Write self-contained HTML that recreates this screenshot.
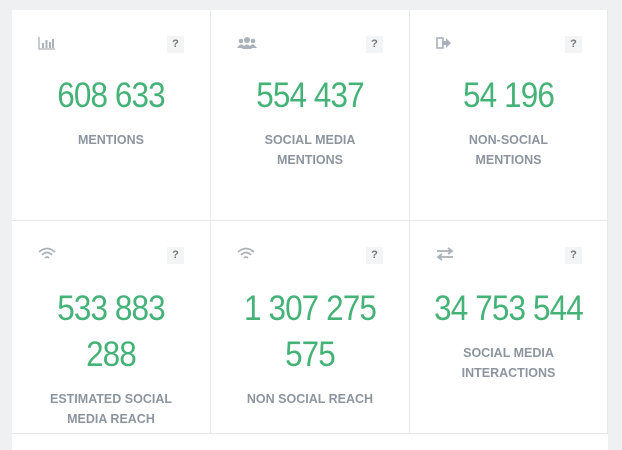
<!DOCTYPE html>
<html><head><meta charset="utf-8"><style>
html,body{margin:0;padding:0;width:622px;height:441px;overflow:hidden;background:#eff0f1;font-family:"Liberation Sans",sans-serif}
.grid{position:absolute;left:12px;top:10px;width:596px;height:440px;background:#fff}
.cell{position:absolute;border-right:1px solid #e6e8ea;border-bottom:1px solid #e6e8ea;box-sizing:border-box;text-align:center}
.icon{position:absolute;left:26px;top:26px;width:18px;height:14px;color:#aab1b9;font-size:14px;line-height:14px;text-align:left}
.q{position:absolute;top:26px;width:17px;height:17px;background:#f3f4f5;color:#777;font-size:11px;font-weight:bold;line-height:17px;text-align:center}
.num{position:absolute;left:0;right:0;color:#45b277;font-size:35px;line-height:46px;letter-spacing:-1px;transform:scaleX(0.9)}
.lab{position:absolute;left:0;right:0;color:#8c959f;font-size:12.5px;font-weight:bold;line-height:20px}
</style></head><body>
<div class="grid">
 <div class="cell" style="left:0;top:0;width:199px;height:211px">
  <div class="icon"><svg width="18" height="14"><path d="M1 1V13H17" stroke="#aab1b9" fill="none" stroke-width="1.3"/><rect x="4" y="7" width="2" height="5" fill="#aab1b9"/><rect x="7.5" y="4" width="2" height="8" fill="#aab1b9"/><rect x="11" y="6" width="2" height="6" fill="#aab1b9"/><rect x="14" y="3" width="2" height="9" fill="#aab1b9"/></svg></div>
  <div class="q" style="left:155px">?</div>
  <div class="num" style="top:63px">608 633</div>
  <div class="lab" style="top:120px">MENTIONS</div>
 </div>
 <div class="cell" style="left:199px;top:0;width:199px;height:211px">
  <div class="icon"><svg width="20" height="14"><circle cx="10" cy="4" r="3" fill="#aab1b9"/><circle cx="4" cy="5" r="2.3" fill="#aab1b9"/><circle cx="16" cy="5" r="2.3" fill="#aab1b9"/><path d="M5 13Q10 4 15 13Z" fill="#aab1b9"/><path d="M0 12Q4 6 7 10V12Z M20 12Q16 6 13 10V12Z" fill="#aab1b9"/></svg></div>
  <div class="q" style="left:155px">?</div>
  <div class="num" style="top:63px">554 437</div>
  <div class="lab" style="top:120px">SOCIAL MEDIA<br>MENTIONS</div>
 </div>
 <div class="cell" style="left:398px;top:0;width:198px;height:211px">
  <div class="icon"><svg width="16" height="14"><rect x="1" y="2" width="6" height="10" fill="none" stroke="#aab1b9" stroke-width="1.6"/><path d="M6 5H10V2L15 7L10 12V9H6Z" fill="#aab1b9"/></svg></div>
  <div class="q" style="left:155px">?</div>
  <div class="num" style="top:63px">54 196</div>
  <div class="lab" style="top:120px">NON-SOCIAL<br>MENTIONS</div>
 </div>
 <div class="cell" style="left:0;top:211px;width:199px;height:213px">
  <div class="icon"><svg width="18" height="14"><path d="M1 5Q9 -2 17 5M4 8Q9 3 14 8M7 11Q9 9 11 11" stroke="#aab1b9" fill="none" stroke-width="1.8"/></svg></div>
  <div class="q" style="left:155px">?</div>
  <div class="num" style="top:65px">533 883<br>288</div>
  <div class="lab" style="top:168px">ESTIMATED SOCIAL<br>MEDIA REACH</div>
 </div>
 <div class="cell" style="left:199px;top:211px;width:199px;height:213px">
  <div class="icon"><svg width="18" height="14"><path d="M1 5Q9 -2 17 5M4 8Q9 3 14 8M7 11Q9 9 11 11" stroke="#aab1b9" fill="none" stroke-width="1.8"/></svg></div>
  <div class="q" style="left:155px">?</div>
  <div class="num" style="top:65px">1 307 275<br>575</div>
  <div class="lab" style="top:168px">NON SOCIAL REACH</div>
 </div>
 <div class="cell" style="left:398px;top:211px;width:198px;height:213px">
  <div class="icon"><svg width="18" height="14"><path d="M1 4H15M12 1L16 4L12 7M17 10H3M6 7L2 10L6 13" stroke="#aab1b9" fill="none" stroke-width="1.8"/></svg></div>
  <div class="q" style="left:155px">?</div>
  <div class="num" style="top:65px">34 753 544</div>
  <div class="lab" style="top:122px">SOCIAL MEDIA<br>INTERACTIONS</div>
 </div>
</div>
</body></html>
